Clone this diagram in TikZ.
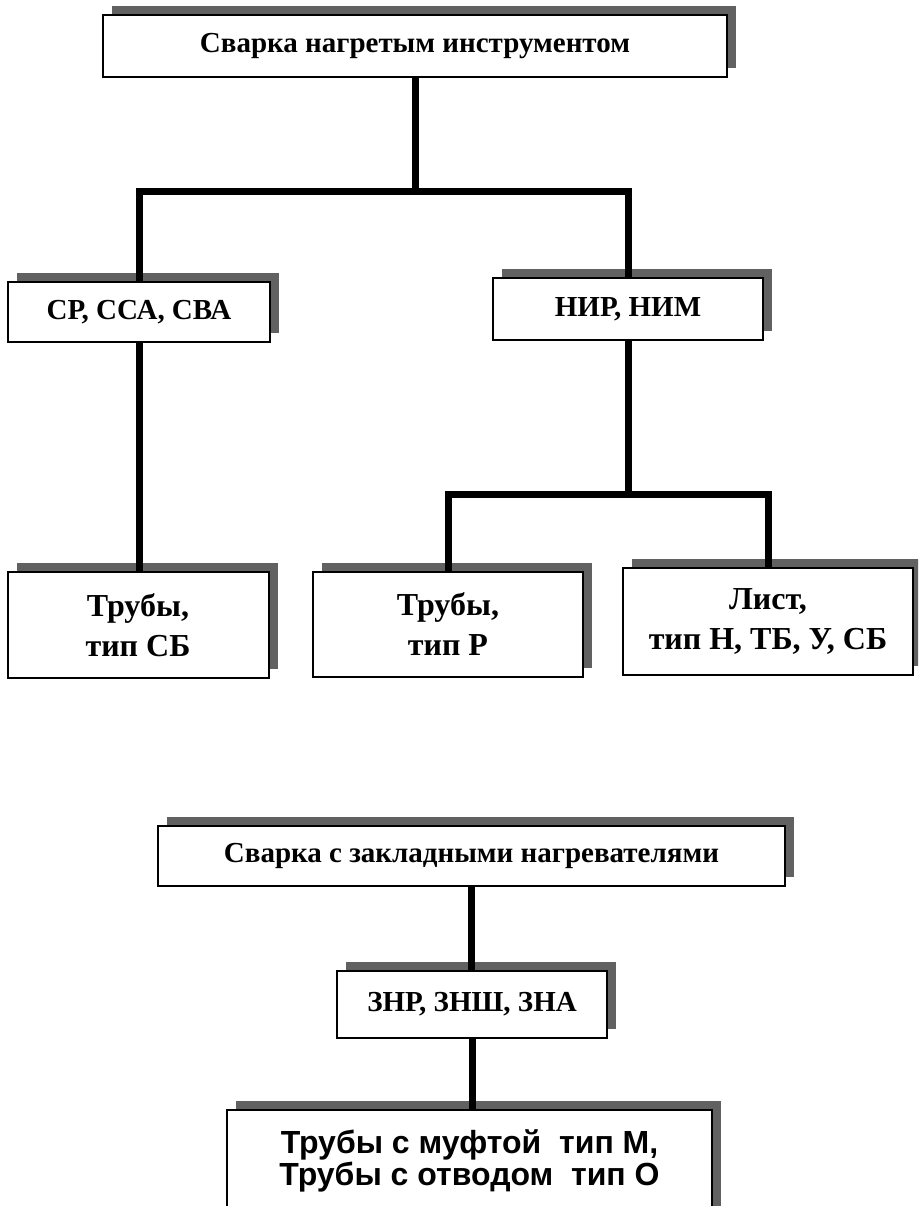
\documentclass[tikz,border=0pt]{standalone}
\usepackage{fontspec}
\setmainfont{Liberation Serif}
\newfontfamily\arialb{Liberation Sans}
\usetikzlibrary{shadows}
\begin{document}
\begin{tikzpicture}[x=1pt,y=-1pt,
  box/.style={draw=black, line width=2pt, fill=white, inner sep=0pt, align=center,
    drop shadow={shadow xshift=9pt, shadow yshift=9pt, fill=black!62, opacity=1}},
  conn/.style={draw=black, line width=7pt, line join=miter}]
\useasboundingbox (0,0) rectangle (918,1206);
\clip (0,0) rectangle (918,1206);
% --- first chart
\node[box, minimum width=624pt, minimum height=62pt, font=\bfseries\fontsize{29}{34}\selectfont] (A) at (415,46) {Сварка нагретым инструментом};
\node[box, minimum width=262pt, minimum height=60pt, font=\bfseries\fontsize{29}{34}\selectfont] (B) at (139,312) {СР, ССА, СВА};
\node[box, minimum width=270pt, minimum height=62pt, font=\bfseries\fontsize{29}{34}\selectfont] (C) at (628,309) {НИР, НИМ};
\node[box, minimum width=261pt, minimum height=106pt, font=\bfseries\fontsize{32}{40}\selectfont] (D1) at (138,625) {Трубы,\\тип СБ};
\node[box, minimum width=270pt, minimum height=105pt, font=\bfseries\fontsize{32}{40}\selectfont] (D2) at (448,624.5) {Трубы,\\тип Р};
\node[box, minimum width=290pt, minimum height=107pt, font=\bfseries\fontsize{32}{40}\selectfont] (D3) at (768,621.5) {Лист,\\тип Н, ТБ, У, СБ};
\coordinate (j1) at (415,192);
\coordinate (j2) at (628,494);
\draw[conn] (A.south) -- (j1);
\draw[conn] (B.north) |- (j1) -| (C.north);
\draw[conn] (C.south) -- (j2);
\draw[conn] (D2.north) |- (j2) -| (D3.north);
\draw[conn] (B.south) -- (B.south |- D1.north);
% --- second chart
\node[box, minimum width=627pt, minimum height=60pt, font=\bfseries\fontsize{29}{34}\selectfont] (E) at (471.5,856) {Сварка с закладными нагревателями};
\node[box, minimum width=270pt, minimum height=67pt, font=\bfseries\fontsize{29}{34}\selectfont] (F) at (472,1004.5) {ЗНР, ЗНШ, ЗНА};
\node[box, minimum width=485pt, minimum height=130pt, font=\arialb\bfseries\fontsize{32}{30}\selectfont] (G) at (469.5,1174.5) {\raisebox{51pt}{\begin{tabular}{@{}c@{}}Трубы с муфтой\ \ тип М,\\[-1pt]Трубы с отводом\ \ тип О\end{tabular}}};
\draw[conn] (E.south) -- (E.south |- F.north);
\draw[conn] (F.south) -- (F.south |- G.north);
\end{tikzpicture}
\end{document}
